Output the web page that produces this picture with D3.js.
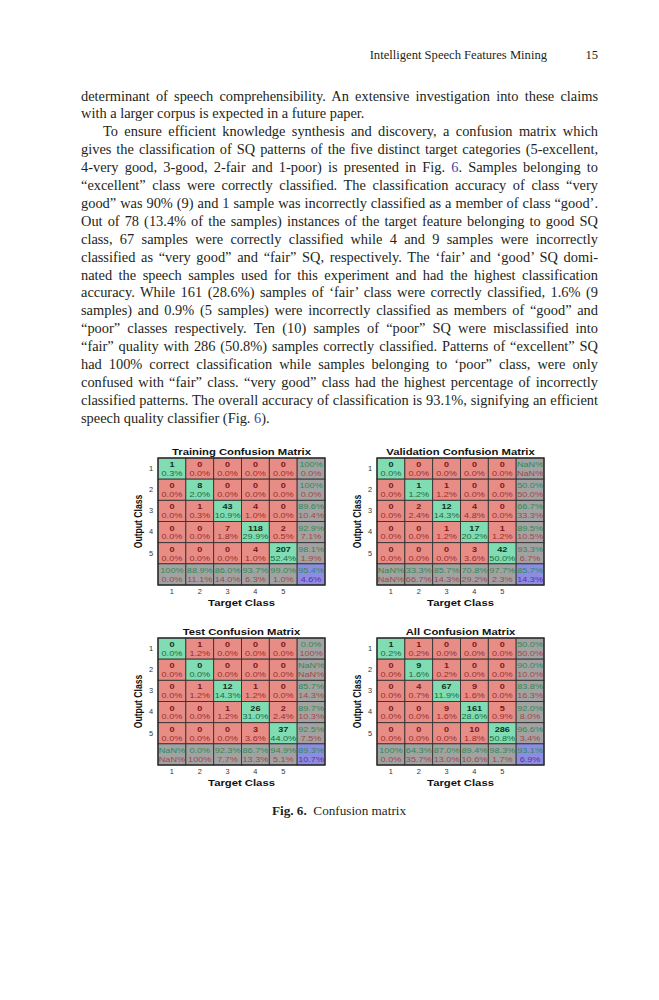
<!DOCTYPE html>
<html>
<head>
<meta charset="utf-8">
<script src="https://cdn.jsdelivr.net/npm/d3@7"></script>
<style>
  html, body { margin: 0; padding: 0; background: #fff; }
  svg { display: block; }
</style>
</head>
<body>
<svg width="659" height="1000"></svg>
<script>
// ---- data ----
const classes = ["1", "2", "3", "4", "5"];

// rows = output class, columns = target class
const trainingCounts = [
    [1, 0, 0, 0, 0],
    [0, 8, 0, 0, 0],
    [0, 1, 43, 4, 0],
    [0, 0, 7, 118, 2],
    [0, 0, 0, 4, 207]
];
const validationCounts = [
    [0, 0, 0, 0, 0],
    [0, 1, 1, 0, 0],
    [0, 2, 12, 4, 0],
    [0, 0, 1, 17, 1],
    [0, 0, 0, 3, 42]
];
const testCounts = [
    [0, 1, 0, 0, 0],
    [0, 0, 0, 0, 0],
    [0, 1, 12, 1, 0],
    [0, 0, 1, 26, 2],
    [0, 0, 0, 3, 37]
];
const allCounts = [
    [1, 1, 0, 0, 0],
    [0, 9, 1, 0, 0],
    [0, 4, 67, 9, 0],
    [0, 0, 9, 161, 5],
    [0, 0, 0, 10, 286]
];

const headerTitle = "Intelligent Speech Features Mining";
const pageNumber = "15";

// each line: [text, indent, justify]
const bodyLines = [
    ["determinant of speech comprehensibility. An extensive investigation into these claims", false, true],
    ["with a larger corpus is expected in a future paper.", false, false],
    ["To ensure efficient knowledge synthesis and discovery, a confusion matrix which", true, true],
    ["gives the classification of SQ patterns of the five distinct target categories (5-excellent,", false, true],
    ["4-very good, 3-good, 2-fair and 1-poor) is presented in Fig. 6. Samples belonging to", false, true],
    ["\u201cexcellent\u201d class were correctly classified. The classification accuracy of class \u201cvery", false, true],
    ["good\u201d was 90% (9) and 1 sample was incorrectly classified as a member of class \u201cgood\u2019.", false, true],
    ["Out of 78 (13.4% of the samples) instances of the target feature belonging to good SQ", false, true],
    ["class, 67 samples were correctly classified while 4 and 9 samples were incorrectly", false, true],
    ["classified as \u201cvery good\u201d and \u201cfair\u201d SQ, respectively. The \u2018fair\u2019 and \u2018good\u2019 SQ domi-", false, true],
    ["nated the speech samples used for this experiment and had the highest classification", false, true],
    ["accuracy. While 161 (28.6%) samples of \u2018fair\u2019 class were correctly classified, 1.6% (9", false, true],
    ["samples) and 0.9% (5 samples) were incorrectly classified as members of \u201cgood\u201d and", false, true],
    ["\u201cpoor\u201d classes respectively. Ten (10) samples of \u201cpoor\u201d SQ were misclassified into", false, true],
    ["\u201cfair\u201d quality with 286 (50.8%) samples correctly classified. Patterns of \u201cexcellent\u201d SQ", false, true],
    ["had 100% correct classification while samples belonging to \u2018poor\u201d class, were only", false, true],
    ["confused with \u201cfair\u201d class. \u201cvery good\u201d class had the highest percentage of incorrectly", false, true],
    ["classified patterns. The overall accuracy of classification is 93.1%, signifying an efficient", false, true],
    ["speech quality classifier (Fig. 6).", false, false]
];

const captionLabel = "Fig. 6.";
const captionText = "Confusion matrix";

// ---- page layout ----
const svg = d3.select("svg");
const serif = "'Liberation Serif', 'Times New Roman', serif";
const sans = "'Liberation Sans', Arial, sans-serif";
const textLeft = 81, textRight = 598, indent = 22;
const lineTop = 100.5, lineStep = 17.9;

svg.append("rect").attr("width", 659).attr("height", 1000).attr("fill", "#fff");

const header = svg.append("g")
    .attr("font-family", serif)
    .attr("font-size", 12.6)
    .attr("fill", "#231f20");
header.append("text").attr("x", 547).attr("y", 59).attr("text-anchor", "end").text(headerTitle);
header.append("text").attr("x", textRight).attr("y", 59).attr("text-anchor", "end").text(pageNumber);

const body = svg.append("g")
    .attr("font-family", serif)
    .attr("font-size", 14.4)
    .attr("fill", "#231f20");

bodyLines.forEach(([line, ind, just], i) => {
    const x0 = textLeft + (ind ? indent : 0);
    const t = body.append("text")
        .attr("x", x0)
        .attr("y", lineTop + i * lineStep)
        .style("white-space", "pre");
    const parts = line.split("Fig. 6");
    parts.forEach((p, k) => {
        if (k > 0) {
            t.append("tspan").text("Fig. ");
            t.append("tspan").attr("fill", "#3b46a6").text("6");
        }
        t.append("tspan").text(p);
    });
    if (just) {
        const natural = t.node().getComputedTextLength();
        const spaces = (line.match(/ /g) || []).length;
        const ws = (textRight - x0 - natural) / spaces;
        t.style("word-spacing", ws + "px");
    }
});

const caption = svg.append("text")
    .attr("x", 339)
    .attr("y", 815)
    .attr("text-anchor", "middle")
    .attr("font-family", serif)
    .attr("font-size", 13.2)
    .attr("fill", "#231f20")
    .style("white-space", "pre");
caption.append("tspan").attr("font-weight", "bold").text(captionLabel);
caption.append("tspan").text("  " + captionText);

// ---- confusion matrices ----
const matW = 167, matH = 127, stretch = 1.2;
const panels = [
    { title: "Training Confusion Matrix", counts: trainingCounts, x: 158, y: 458 },
    { title: "Validation Confusion Matrix", counts: validationCounts, x: 377, y: 458 },
    { title: "Test Confusion Matrix", counts: testCounts, x: 158, y: 638 },
    { title: "All Confusion Matrix", counts: allCounts, x: 377, y: 638 }
];

const colors = {
    hit: "#80dcb3", miss: "#e88c86", summary: "#a2a2a2", total: "#8c8de2",
    hitCount: "#10301c", hitPct: "#1d6b3c",
    missCount: "#7e1616", missPct: "#9a2e2e",
    good: "#2f8a52", bad: "#a44848", totalBad: "#6a2aa0", grid: "#333"
};

function pct(num, den) {
    if (den === 0) return "NaN%";
    const v = 100 * num / den;
    if (Math.abs(v - 100) < 1e-9) return "100%";
    return v.toFixed(1) + "%";
}

function stretchedText(g, x, y, str) {
    return g.append("text")
        .attr("transform", `translate(${x},${y}) scale(${stretch},1)`)
        .attr("text-anchor", "middle")
        .text(str);
}

panels.forEach(p => {
    const n = classes.length;
    const total = d3.sum(p.counts.flat());
    const rowSums = p.counts.map(r => d3.sum(r));
    const colSums = classes.map((_, c) => d3.sum(p.counts, r => r[c]));
    const diag = classes.map((_, i) => p.counts[i][i]);
    const correct = d3.sum(diag);

    const x = d3.scaleBand().domain(d3.range(n + 1)).range([p.x, p.x + matW]);
    const y = d3.scaleBand().domain(d3.range(n + 1)).range([p.y, p.y + matH]);

    const cells = [];
    for (let r = 0; r <= n; r++) {
        for (let c = 0; c <= n; c++) {
            let fill, top, bottom, topColor, bottomColor, bold;
            if (r < n && c < n) {
                const hit = r === c;
                fill = hit ? colors.hit : colors.miss;
                top = String(p.counts[r][c]);
                bottom = pct(p.counts[r][c], total);
                topColor = hit ? colors.hitCount : colors.missCount;
                bottomColor = hit ? colors.hitPct : colors.missPct;
                bold = true;
            } else {
                let num, den;
                if (r < n) { num = diag[r]; den = rowSums[r]; }
                else if (c < n) { num = diag[c]; den = colSums[c]; }
                else { num = correct; den = total; }
                fill = (r === n && c === n) ? colors.total : colors.summary;
                top = pct(num, den);
                bottom = den === 0 ? "NaN%" : pct(den - num, den);
                topColor = colors.good;
                bottomColor = (r === n && c === n) ? colors.totalBad : colors.bad;
                bold = false;
            }
            cells.push({ r, c, fill, top, bottom, topColor, bottomColor, bold });
        }
    }

    const g = svg.append("g").attr("font-family", sans);

    g.selectAll("rect.cell")
        .data(cells)
        .join("rect")
        .attr("class", "cell")
        .attr("x", d => x(d.c))
        .attr("y", d => y(d.r))
        .attr("width", x.bandwidth())
        .attr("height", y.bandwidth())
        .attr("fill", d => d.fill)
        .attr("stroke", colors.grid)
        .attr("stroke-width", 0.9);

    g.append("rect")
        .attr("x", p.x).attr("y", p.y)
        .attr("width", matW).attr("height", matH)
        .attr("fill", "none")
        .attr("stroke", "#2a2a2a")
        .attr("stroke-width", 1.3);

    cells.forEach(d => {
        const cx = x(d.c) + x.bandwidth() / 2;
        const cy = y(d.r) + y.bandwidth() / 2;
        stretchedText(g, cx, cy - 1.5, d.top)
            .attr("font-size", 7.6)
            .attr("font-weight", d.bold ? "bold" : "normal")
            .attr("fill", d.topColor);
        stretchedText(g, cx, cy + 7.4, d.bottom)
            .attr("font-size", 7.6)
            .attr("fill", d.bottomColor);
    });

    // class tick labels through axes
    const xc = d3.scaleBand().domain(classes).range([p.x, p.x + x.bandwidth() * n]);
    const yc = d3.scaleBand().domain(classes).range([p.y, p.y + y.bandwidth() * n]);

    const xa = g.append("g")
        .attr("transform", `translate(0,${p.y + matH})`)
        .call(d3.axisBottom(xc).tickSize(0).tickPadding(4));
    const ya = g.append("g")
        .attr("transform", `translate(${p.x},0)`)
        .call(d3.axisLeft(yc).tickSize(0).tickPadding(5));
    [xa, ya].forEach(a => {
        a.select(".domain").remove();
        a.selectAll("text")
            .attr("font-family", sans)
            .attr("font-size", 7.4)
            .attr("fill", "#333");
    });

    stretchedText(g, p.x + matW / 2, p.y - 3.5, p.title)
        .attr("font-size", 9.4)
        .attr("font-weight", "bold")
        .attr("fill", "#111");

    stretchedText(g, p.x + matW / 2, p.y + matH + 20.5, "Target Class")
        .attr("font-size", 9.4)
        .attr("font-weight", "bold")
        .attr("fill", "#111");

    g.append("text")
        .attr("transform", `translate(${p.x - 16},${p.y + matH / 2}) rotate(-90) scale(1,${stretch})`)
        .attr("text-anchor", "middle")
        .attr("font-size", 8.6)
        .attr("font-weight", "bold")
        .attr("fill", "#111")
        .text("Output Class");
});
</script>
</body>
</html>
